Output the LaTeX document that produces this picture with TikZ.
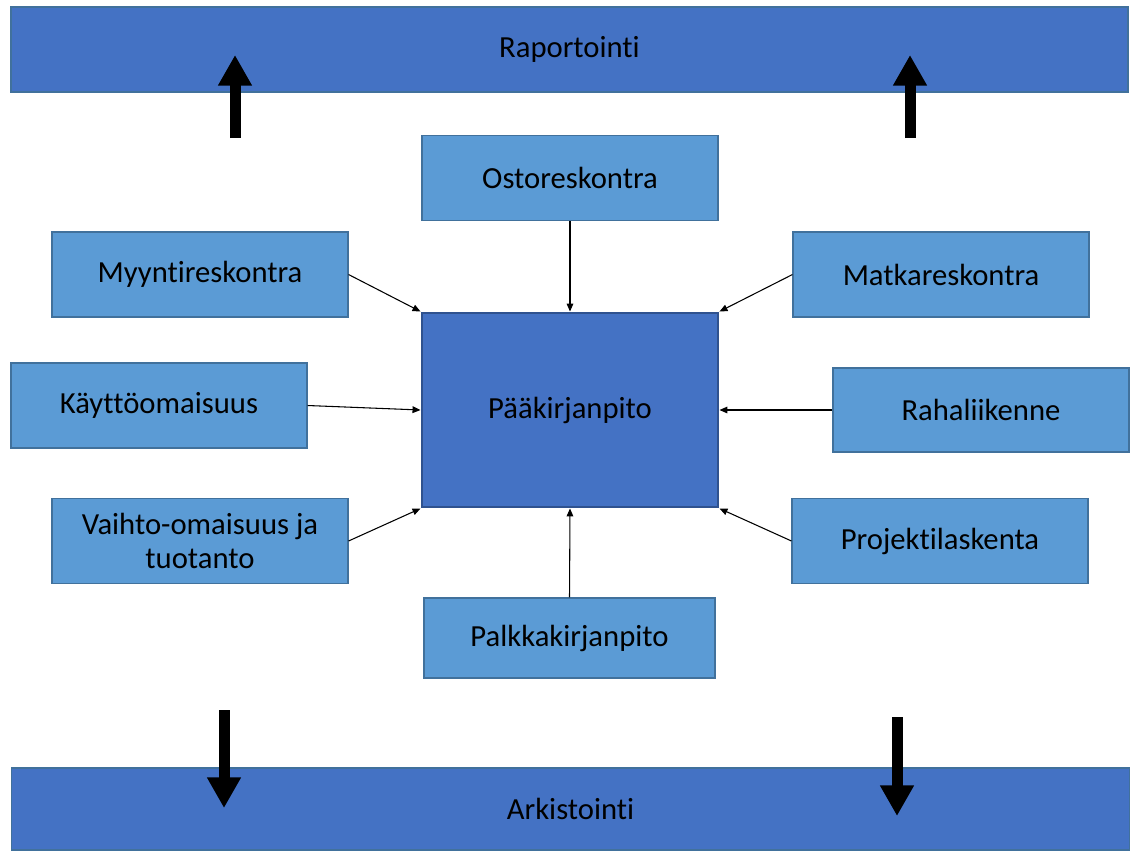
\documentclass[tikz,border=0pt]{standalone}
\usepackage{fontspec}
\setmainfont[RawFeature={-liga}]{Carlito}
\usetikzlibrary{arrows.meta}
\definecolor{barblue}{HTML}{4472C4}
\definecolor{boxblue}{HTML}{5B9BD5}
\definecolor{boxedge}{HTML}{41719C}
\definecolor{ctredge}{HTML}{2F528F}
\tikzset{
  sub/.style={draw=boxedge, line width=0.8pt, fill=boxblue, minimum width=222pt, minimum height=63.75pt, inner sep=0pt, align=center, font=\fontsize{23}{26}\selectfont},
  ctrbox/.style={draw=ctredge, line width=2.2pt, fill=barblue, minimum width=222pt, minimum height=145.5pt, inner sep=0pt, font=\fontsize{23}{26}\selectfont},
  bar/.style={draw=boxedge, line width=0.8pt, fill=barblue, inner sep=0pt, font=\fontsize{23}{26}\selectfont},
  conn/.style={-{Triangle[width=5pt,length=6pt]}, line width=0.8pt, black},
  bigarrow/.style={-{Triangle[width=24pt,length=23pt]}, line width=8.25pt, black}
}
\begin{document}
\begin{tikzpicture}[x=0.75pt,y=-0.75pt]
\useasboundingbox (0,0) rectangle (1130,850);
\fill[white] (0,0) rectangle (1130,850);
% bars
\node[bar, minimum width=837.75pt, minimum height=63.75pt] (rap) at (569.5,49.5) {Raportointi};
\node[bar, minimum width=839pt, minimum height=61.5pt] (ark) at (570.5,809) {Arkistointi};
% boxes
\node[ctrbox] (ctr) at (570,410) {Pääkirjanpito};
\node[sub] (ost) at (570,178) {Ostoreskontra};
\node[sub] (myy) at (200,274.5) {Myyntireskontra};
\node[sub] (kay) at (159,405.5) {Käyttöomaisuus};
\node[sub] (vai) at (200,541) {Vaihto-omaisuus ja\\tuotanto};
\node[sub] (mat) at (941,274.5) {Matkareskontra};
\node[sub, minimum height=63pt] (rah) at (981,410) {Rahaliikenne};
\node[sub] (pro) at (940,541) {Projektilaskenta};
\node[sub, minimum width=218.25pt, minimum height=60pt] (pal) at (569.5,638) {Palkkakirjanpito};
% connectors
\draw[conn] (ost.south) -- (ctr.north);
\draw[conn] (myy.east) -- (ctr.north west);
\draw[conn] (kay.east) -- (ctr.west);
\draw[conn] (vai.east) -- (ctr.south west);
\draw[conn] (mat.west) -- (ctr.north east);
\draw[conn] (rah.west) -- (ctr.east);
\draw[conn] (pro.west) -- (ctr.south east);
\draw[conn] (pal.north) -- (ctr.south);
% big arrows
\coordinate (ua1s) at (235,138);
\coordinate (ua1e) at (235,55);
\coordinate (ua2s) at (910,138);
\coordinate (ua2e) at (910,55);
\coordinate (da1s) at (224,710);
\coordinate (da1e) at (224,808);
\coordinate (da2s) at (897,717);
\coordinate (da2e) at (897,816);
\draw[bigarrow] (ua1s) -- (ua1e);
\draw[bigarrow] (ua2s) -- (ua2e);
\draw[bigarrow] (da1s) -- (da1e);
\draw[bigarrow] (da2s) -- (da2e);
\end{tikzpicture}
\end{document}
